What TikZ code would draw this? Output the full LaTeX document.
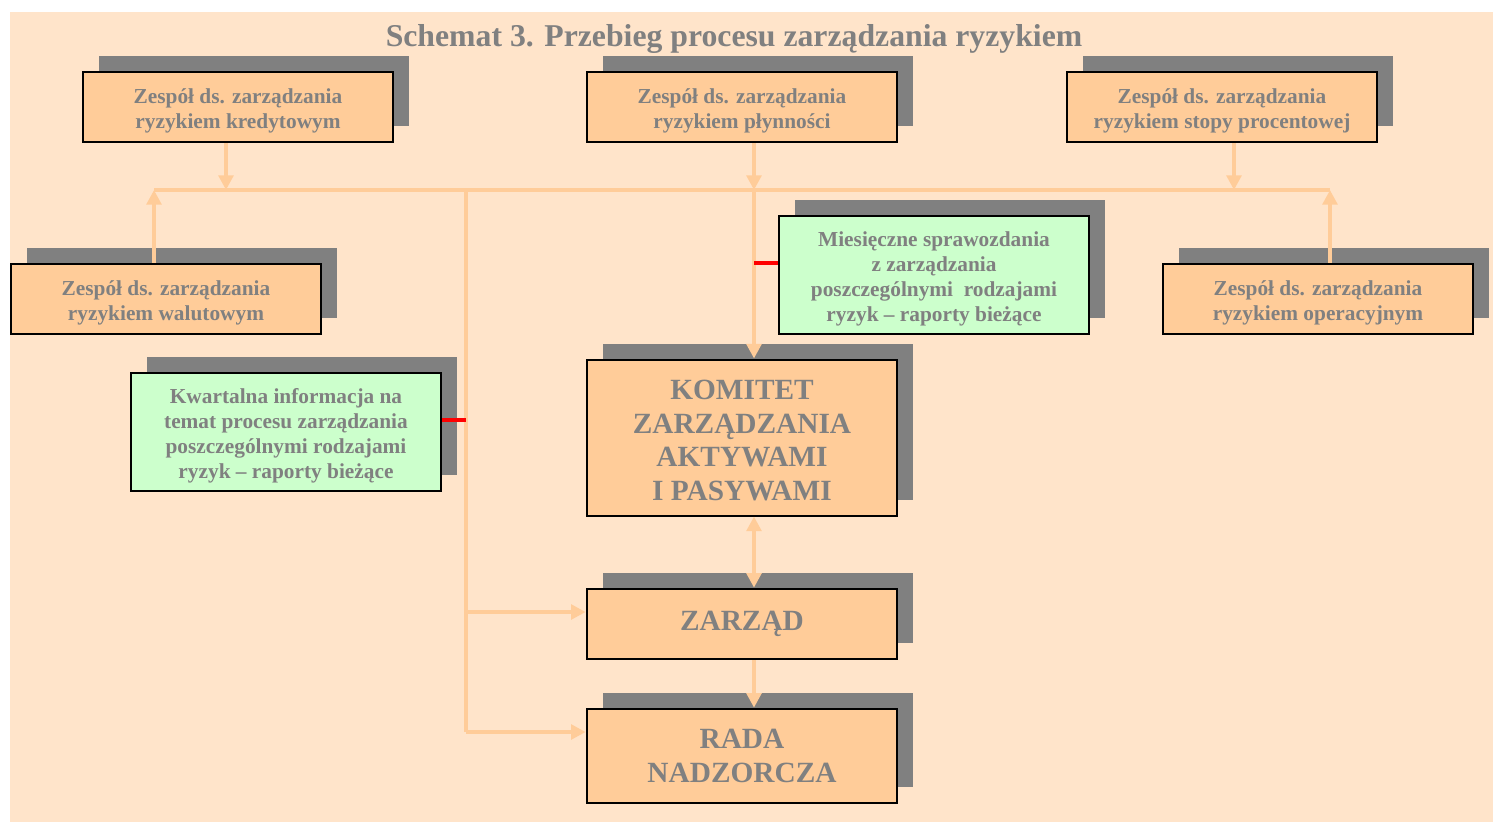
\documentclass[tikz,border=0pt]{standalone}
\usepackage{fontspec}
\setmainfont{Liberation Serif}
\usetikzlibrary{shadows,arrows.meta,calc}
\definecolor{bgpeach}{HTML}{FFE4CA}
\definecolor{boxorange}{HTML}{FFCC99}
\definecolor{boxgreen}{HTML}{CCFFCC}
\definecolor{shadowgray}{HTML}{808080}
\definecolor{txtgray}{HTML}{808080}
\definecolor{linkc}{HTML}{FFCC99}
\newcommand{\tstrut}{\rule{0pt}{17pt}}
\begin{document}
\begin{tikzpicture}[x=0.75pt,y=-0.75pt,
  boxbase/.style={draw=black, line width=1.5pt, align=center, text=txtgray, inner sep=0pt,
    minimum width=233pt,
    general shadow={fill=shadowgray, shadow xshift=12pt, shadow yshift=12pt}},
  box/.style={boxbase, fill=boxorange, minimum height=53pt,
    font=\bfseries\fontsize{16}{18.75}\selectfont},
  gbox/.style={boxbase, fill=boxgreen, minimum height=89pt,
    font=\bfseries\fontsize{16}{18.75}\selectfont},
  bigbox/.style={boxbase, fill=boxorange,
    font=\bfseries\fontsize{22}{25.3}\selectfont},
  titlestyle/.style={text=txtgray, font=\bfseries\fontsize{23.8}{28}\selectfont, inner sep=0pt},
  link/.style={draw=linkc, line width=3pt},
  arr/.style={-{Triangle[width=11pt,length=11pt]}},
  darr/.style={{Triangle[width=11pt,length=11pt]}-{Triangle[width=11pt,length=11pt]}},
  redtick/.style={draw=red, line width=3pt}]
\useasboundingbox (0,0) rectangle (1493,822);
\fill[bgpeach] (10,12) rectangle (1493,822);

\node[titlestyle] (title) at (734,39) {Schemat 3. Przebieg procesu zarządzania ryzykiem};

\node[box] (k1) at (238,107) {\tstrut Zespół ds. zarządzania\\ryzykiem kredytowym};
\node[box] (k2) at (742,107) {\tstrut Zespół ds. zarządzania\\ryzykiem płynności};
\node[box] (k3) at (1222,107) {\tstrut Zespół ds. zarządzania\\ryzykiem stopy procentowej};
\node[box] (k4) at (166,299) {\tstrut Zespół ds. zarządzania\\ryzykiem walutowym};
\node[box] (k5) at (1318,299) {\tstrut Zespół ds. zarządzania\\ryzykiem operacyjnym};
\node[gbox] (g1) at (934,275) {\tstrut Miesięczne sprawozdania\\z zarządzania\\poszczególnymi\ \ rodzajami\\ryzyk – raporty bieżące};
\node[gbox] (g2) at (286,432) {\tstrut Kwartalna informacja na\\temat procesu zarządzania\\poszczególnymi rodzajami\\ryzyk – raporty bieżące};
\node[bigbox, minimum height=117pt] (kom) at (742,437.5) {\rule{0pt}{19pt}KOMITET\\ZARZĄDZANIA\\AKTYWAMI\\I PASYWAMI};
\node[bigbox, minimum height=53pt] (zar) at (742,624) {\raisebox{1.5pt}{ZARZĄD}};
\node[bigbox, minimum height=71pt] (rada) at (742,756) {RADA\\NADZORCZA};

\coordinate (busL) at (154,190);
\coordinate (busR) at (1330,190);
\coordinate (trunkT) at (466,190);
\coordinate (trunkB) at (466,732);
\coordinate (spine) at ([xshift=9pt]kom.north);

\draw[link] (busL) -- (busR);
\draw[link] (trunkT) -- (trunkB);
\draw[link,arr] ([xshift=-9pt]k1.south) -- ([xshift=-9pt]k1.south |- busL);
\draw[link,arr] ([xshift=9pt]k2.south) -- ([xshift=9pt]k2.south |- busL);
\draw[link,arr] ([xshift=9pt]k3.south) -- ([xshift=9pt]k3.south |- busL);
\draw[link,arr] ([xshift=-9pt]k4.north) -- ([xshift=-9pt]k4.north |- busL);
\draw[link,arr] ([xshift=9pt]k5.north) -- ([xshift=9pt]k5.north |- busL);
\draw[link,arr] (spine |- busL) -- (spine);
\draw[link,darr] ([xshift=9pt]kom.south) -- ([xshift=9pt]zar.north);
\draw[link,arr] ([xshift=9pt]zar.south) -- ([xshift=9pt]rada.north);
\draw[link,arr] ([yshift=9pt]zar.west -| trunkT) -- ([yshift=9pt]zar.west);
\draw[link,arr] (trunkB) -- ([yshift=18pt]rada.west);

\draw[redtick] ([yshift=9pt]g1.west) -- ([yshift=9pt]g1.west -| spine);
\draw[redtick] ([yshift=9pt]g2.east) -- ([yshift=9pt]g2.east -| trunkT);
\end{tikzpicture}
\end{document}
